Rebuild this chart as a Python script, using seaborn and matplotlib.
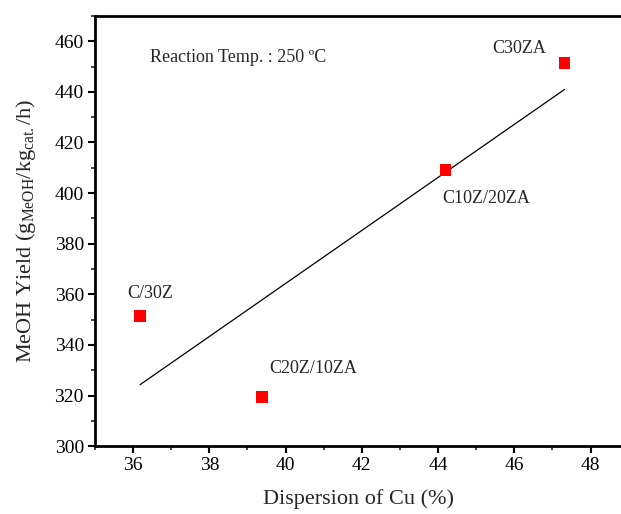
import matplotlib
matplotlib.use("Agg")
import matplotlib.pyplot as plt
from matplotlib.ticker import MultipleLocator
import seaborn as sns
import pandas as pd

# Cu dispersion vs. methanol yield for each catalyst
catalysts = ["C/30Z", "C20Z/10ZA", "C10Z/20ZA", "C30ZA"]
dispersion = [36.18, 39.38, 44.20, 47.32]
meoh_yield = [351.4, 319.4, 409.1, 451.4]

df = pd.DataFrame({"cat": catalysts, "disp": dispersion, "yield": meoh_yield})

sns.set_theme(style="ticks")
plt.rcParams["font.family"] = ["Liberation Serif", "DejaVu Serif"]
plt.rcParams["mathtext.fontset"] = "custom"
plt.rcParams["mathtext.rm"] = "Liberation Serif"
plt.rcParams["mathtext.it"] = "Liberation Serif:italic"

fig = plt.figure(figsize=(6.21, 5.14), dpi=100)
ax = fig.add_axes([0.153, 0.132, 0.847, 0.837])

# linear fit through the four points
sns.regplot(data=df, x="disp", y="yield", ax=ax, ci=None, truncate=True,
            scatter=False, line_kws=dict(color="black", lw=0.9))
sns.scatterplot(data=df, x="disp", y="yield", ax=ax, marker="s", s=70,
                color="#ff0000", edgecolor="none", zorder=3)

label_pos = {
    "C/30Z": (36.45, 360.5),
    "C20Z/10ZA": (40.72, 330.8),
    "C10Z/20ZA": (45.25, 398.0),
    "C30ZA": (46.14, 457.3),
}
for name in catalysts:
    lx, ly = label_pos[name]
    ax.text(lx, ly, name, ha="center", va="center", fontsize=13)

ax.text(36.45, 453.4, "Reaction Temp. : 250 ºC", ha="left", va="center", fontsize=13)

ax.set_xlim(35, 48.8)
ax.set_ylim(300, 470)
ax.xaxis.set_minor_locator(MultipleLocator(1))
ax.yaxis.set_minor_locator(MultipleLocator(10))
ax.set_xticks([36, 38, 40, 42, 44, 46, 48])
ax.set_yticks(range(300, 461, 20))

ax.tick_params(which="major", direction="out", length=5, width=1.5, labelsize=14,
               colors="black", pad=3)
ax.tick_params(which="minor", direction="out", length=3, width=1.2)
for side in ["left", "bottom", "top"]:
    ax.spines[side].set_linewidth(2)
    ax.spines[side].set_color("black")
ax.spines["right"].set_visible(False)
ax.spines["top"].set_visible(True)

ax.set_xlabel("Dispersion of Cu (%)", fontsize=16, labelpad=11)
ax.set_ylabel(r"MeOH Yield (g$_{\mathrm{MeOH}}$/kg$_{\mathrm{cat.}}$/h)", fontsize=16, labelpad=12)

fig.savefig("out.png", dpi=100)
